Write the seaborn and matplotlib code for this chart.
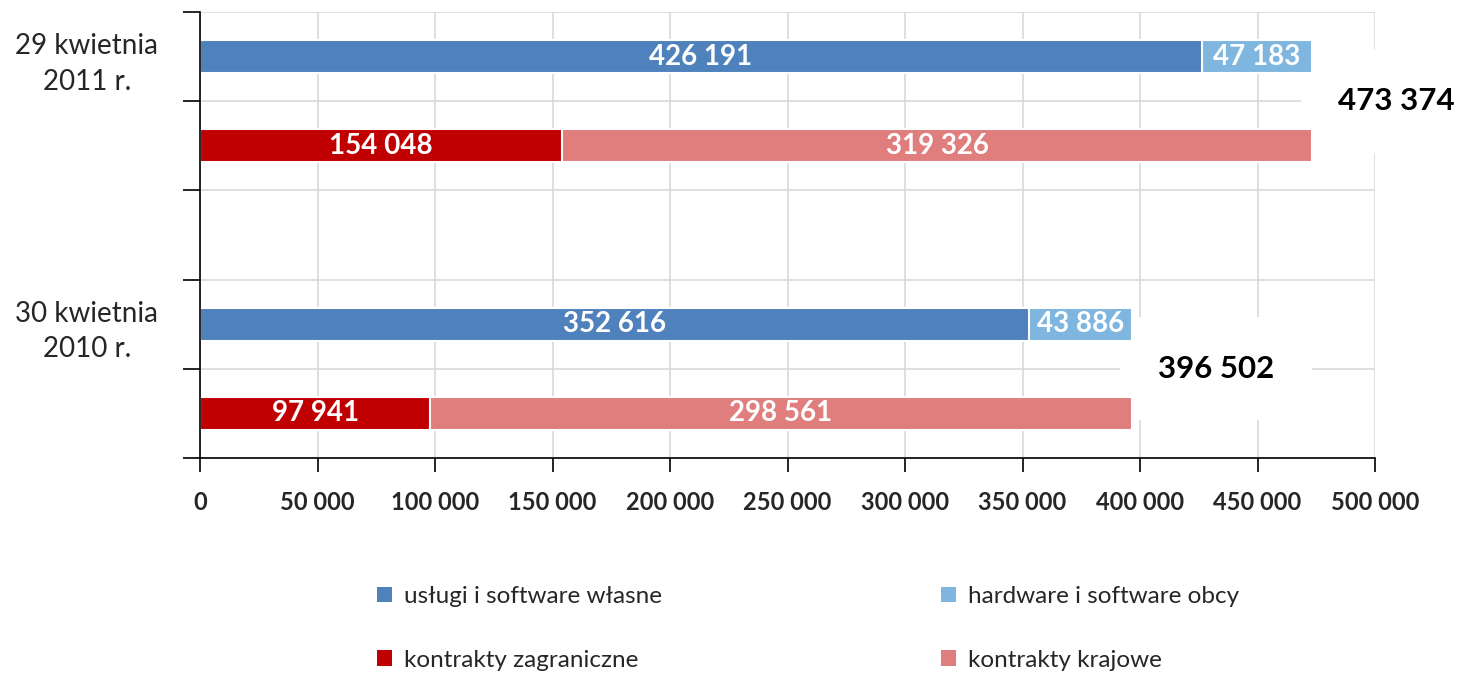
import matplotlib
matplotlib.use("Agg")
import matplotlib.pyplot as plt
from matplotlib.patches import Patch
import pandas as pd
import seaborn as sns

# data
dates = ["29 kwietnia\n2011 r.", "30 kwietnia\n2010 r."]
uslugi = [426191, 352616]
hardware = [47183, 43886]
zagraniczne = [154048, 97941]
krajowe = [319326, 298561]
totals = [473374, 396502]

series_names = ["usługi i software własne", "hardware i software obcy",
                "kontrakty zagraniczne", "kontrakty krajowe"]
colors = {
    series_names[0]: "#4F81BD",
    series_names[1]: "#7EB6E0",
    series_names[2]: "#C00000",
    series_names[3]: "#E07D7D",
}
xticks = [0, 50000, 100000, 150000, 200000, 250000, 300000, 350000, 400000, 450000, 500000]
xtick_labels = ["0", "50 000", "100 000", "150 000", "200 000", "250 000",
                "300 000", "350 000", "400 000", "450 000", "500 000"]


def fmt(v):
    return f"{v:,}".replace(",", " ")


# slots: two bars per date with an empty slot between the dates
slots = ["a0", "b0", "gap", "a1", "b1"]
rows = []
for i in range(len(dates)):
    rows.append({"slot": f"a{i}", "left_s": series_names[0], "left": uslugi[i],
                 "right_s": series_names[1], "right": hardware[i]})
    rows.append({"slot": f"b{i}", "left_s": series_names[2], "left": zagraniczne[i],
                 "right_s": series_names[3], "right": krajowe[i]})
df = pd.DataFrame(rows)
df["full"] = df["left"] + df["right"]

sns.set_theme(style="white")
plt.rcParams["font.family"] = ["Lato", "DejaVu Sans"]

fig = plt.figure(figsize=(14.62, 6.75), dpi=100)
ax = fig.add_axes([200 / 1462, 1 - 458 / 675, 1175 / 1462, 446 / 675])

# back bars: full length in the colour of the right segment
sns.barplot(data=df, x="full", y="slot", hue="right_s", palette=colors, order=slots,
            dodge=False, width=0.37, saturation=1, edgecolor="white", linewidth=1.5,
            legend=False, ax=ax)
# front bars: left segment
sns.barplot(data=df, x="left", y="slot", hue="left_s", palette=colors, order=slots,
            dodge=False, width=0.37, saturation=1, edgecolor="white", linewidth=1.5,
            legend=False, ax=ax)

pos = {s: k for k, s in enumerate(slots)}
for _, r in df.iterrows():
    y = pos[r["slot"]]
    ax.text(r["left"] / 2, y, fmt(r["left"]), ha="center", va="center",
            color="white", fontsize=20, fontweight="bold")
    ax.text(r["left"] + r["right"] / 2, y, fmt(r["right"]), ha="center", va="center",
            color="white", fontsize=20, fontweight="bold")

# totals between the two bars of each date (box hides the grid, stays under bars)
for i, t in enumerate(totals):
    ax.annotate(fmt(t), xy=(t, pos[f"a{i}"] + 0.5), xytext=(26, 0),
                textcoords="offset pixels", ha="left", va="center",
                fontsize=22.5, fontweight="bold", color="black", annotation_clip=False,
                zorder=0.8,
                bbox=dict(boxstyle="square,pad=1.2", fc="white", ec="none"))

ax.set_xlim(0, 500000)
ax.set_ylim(4.5, -0.5)
ax.set_xticks(xticks)
ax.set_xticklabels(xtick_labels, fontsize=17, fontweight="bold")
ax.set_yticks([pos["a0"], pos["a1"]])
ax.set_yticklabels(dates, fontsize=20, multialignment="center", linespacing=1.45)
ax.set_yticks([k - 0.5 for k in range(len(slots) + 1)], minor=True)
ax.set_xlabel("")
ax.set_ylabel("")

ax.set_axisbelow(True)
ax.grid(axis="x", which="major", color="#d9d9d9", linewidth=1.2, zorder=0.5)
ax.grid(axis="y", which="minor", color="#d9d9d9", linewidth=1.2, zorder=0.5)
ax.grid(axis="y", which="major", visible=False)

ax.tick_params(axis="x", which="major", direction="out", length=10, width=1.2,
               color="black", pad=14, bottom=True)
ax.tick_params(axis="y", which="major", length=0, pad=30)
ax.tick_params(axis="y", which="minor", direction="out", length=12, width=1.2,
               color="black", left=True)

for side in ["top", "right"]:
    ax.spines[side].set_visible(False)
for side in ["left", "bottom"]:
    ax.spines[side].set_color("black")
    ax.spines[side].set_linewidth(1.2)

handles = [Patch(facecolor=colors[n], edgecolor="none", label=n)
           for n in [series_names[0], series_names[2], series_names[1], series_names[3]]]
fig.legend(handles=handles, loc="upper left", bbox_to_anchor=(365 / 1462, 1 - 574 / 675),
           ncol=2, frameon=False, fontsize=17.5, handlelength=0.6, handleheight=0.6,
           handletextpad=0.5, columnspacing=11.5, labelspacing=1.75, borderpad=0)

fig.savefig("out.png", dpi=100)
